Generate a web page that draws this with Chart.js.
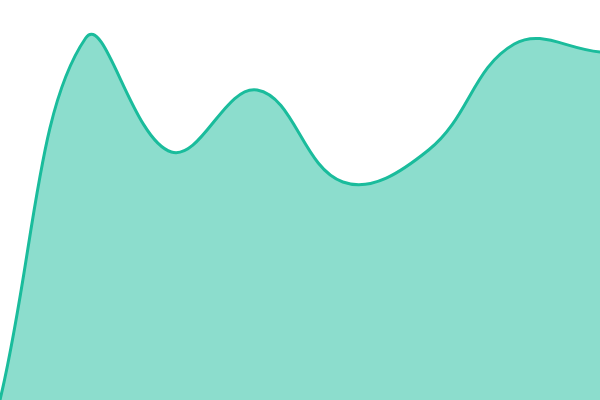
<!DOCTYPE html>
<html>
<head>
<meta charset="utf-8">
<script src="https://cdn.jsdelivr.net/npm/chart.js@4"></script>
<style>
    html, body { margin: 0; padding: 0; background: #fff; }
    #wrap { width: 600px; height: 400px; position: relative; }
</style>
</head>
<body>
<div id="wrap"><canvas id="areaChart"></canvas></div>
<script>
// datos del gráfico
const labels = ['1', '2', '3', '4', '5', '6', '7', '8'];
const valores = [0, 90.5, 62, 77.5, 54.5, 62.5, 89, 87];
const yMin = 0;
const yMax = 100;

const ctx = document.getElementById('areaChart').getContext('2d');
new Chart(ctx, {
    type: 'line',
    data: {
        labels,
        datasets: [{
            data: valores,
            borderColor: '#1abc9c',
            backgroundColor: 'rgba(26,188,156,0.5)',
            borderWidth: 3,
            fill: 'origin',
            tension: 0.4,
            pointRadius: 0
        }]
    },
    options: {
        responsive: true,
        maintainAspectRatio: false,
        animation: false,
        layout: { padding: 0 },
        plugins: {
            legend: { display: false },
            tooltip: { enabled: false }
        },
        scales: {
            x: { display: false, offset: false },
            y: { display: false, min: yMin, max: yMax }
        }
    }
});
</script>
</body>
</html>
